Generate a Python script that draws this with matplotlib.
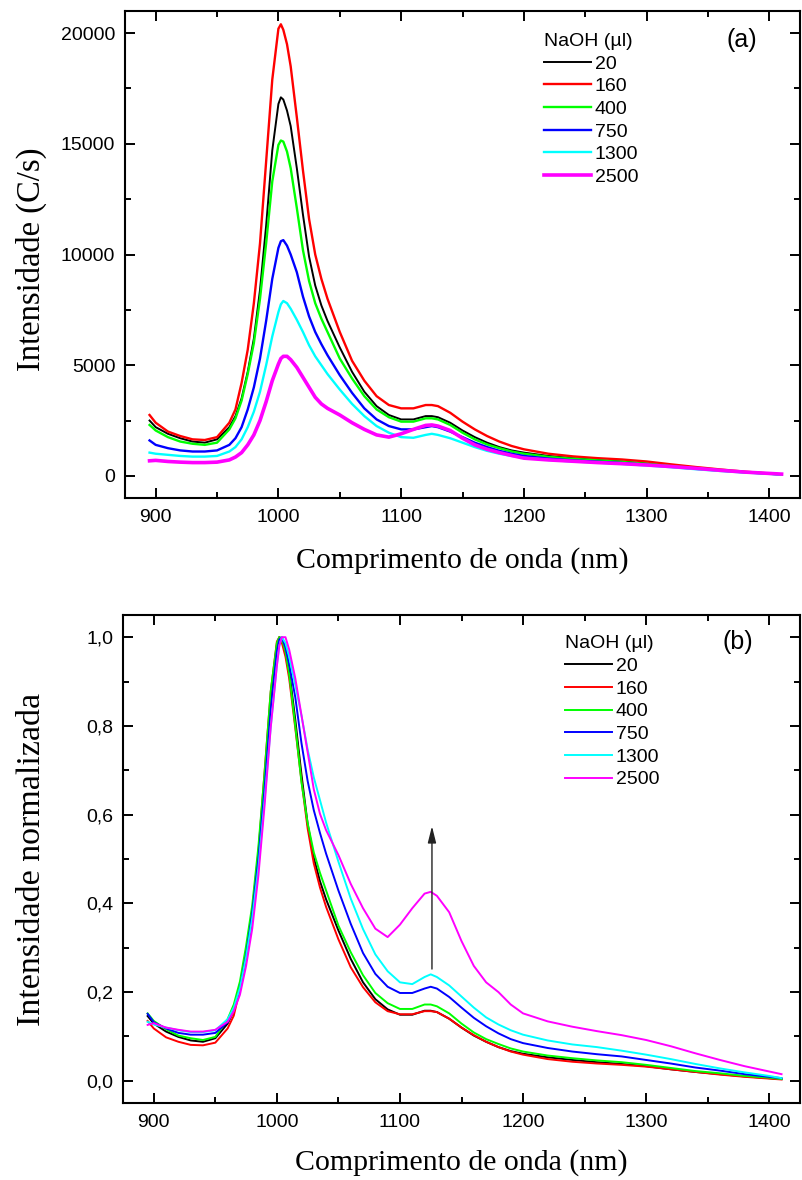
import matplotlib
matplotlib.use("Agg")
import matplotlib.pyplot as plt
from matplotlib.ticker import MultipleLocator, FuncFormatter

# comprimento de onda (nm)
lam = [895, 900, 910, 920, 930, 940, 950, 960, 965, 970,
       975, 980, 985, 990, 995, 1000, 1002, 1004, 1007, 1010,
       1015, 1020, 1025, 1030, 1035, 1040, 1050, 1060, 1070, 1080,
       1090, 1100, 1110, 1120, 1125, 1130, 1140, 1150, 1160, 1170,
       1180, 1190, 1200, 1220, 1240, 1260, 1280, 1300, 1320, 1340,
       1360, 1380, 1400, 1410]

naoh = ["20", "160", "400", "750", "1300", "2500"]
cores = ["#000000", "#ff0000", "#00ff00", "#0000ff", "#00ffff", "#ff00ff"]

# (a) intensidade (C/s)
int_20 = [2500, 2200, 1900, 1700, 1550, 1500, 1650, 2200, 2700, 3500,
          4700, 6200, 8400, 11300, 14700, 16800, 17100, 17000, 16500, 15800,
          13900, 11800, 9900, 8600, 7700, 7000, 5800, 4700, 3800, 3150,
          2750, 2550, 2550, 2700, 2700, 2650, 2400, 2050, 1750, 1500,
          1300, 1150, 1050, 900, 800, 720, 650, 560, 450, 350,
          260, 170, 100, 60]
int_160 = [2750, 2400, 2000, 1800, 1650, 1620, 1750, 2400, 3000, 4200,
           5700, 7800, 10500, 14200, 17900, 20200, 20400, 20150, 19500, 18500,
           16200, 13800, 11600, 10000, 8900, 8000, 6500, 5200, 4300, 3600,
           3200, 3050, 3050, 3200, 3200, 3150, 2850, 2450, 2100, 1800,
           1550, 1350, 1200, 1000, 880, 800, 740, 650, 520, 400,
           290, 190, 110, 70]
int_400 = [2300, 2050, 1750, 1550, 1450, 1400, 1500, 2100, 2600, 3400,
           4600, 6000, 8000, 10500, 13300, 14950, 15150, 15100, 14650, 13900,
           12100, 10200, 8800, 7800, 7100, 6500, 5300, 4400, 3600, 3000,
           2650, 2450, 2450, 2600, 2600, 2550, 2300, 1950, 1650, 1420,
           1250, 1100, 1000, 860, 770, 700, 630, 540, 440, 340,
           250, 170, 100, 60]
int_750 = [1600, 1400, 1250, 1150, 1100, 1100, 1150, 1400, 1700, 2200,
           3000, 4000, 5300, 7000, 8900, 10300, 10600, 10650, 10400, 10000,
           9200, 8100, 7200, 6500, 5950, 5450, 4550, 3750, 3050, 2550,
           2250, 2100, 2100, 2200, 2250, 2200, 2000, 1750, 1500, 1300,
           1130, 1000, 900, 780, 700, 640, 580, 500, 410, 320,
           240, 160, 100, 60]
int_1300 = [1050, 1000, 950, 900, 870, 870, 900, 1100, 1300, 1650,
            2200, 2900, 3800, 5000, 6300, 7400, 7750, 7900, 7800, 7550,
            7050, 6500, 5900, 5400, 5000, 4600, 3900, 3250, 2700, 2250,
            1950, 1750, 1720, 1850, 1900, 1850, 1700, 1500, 1300, 1130,
            1000, 900, 820, 720, 650, 600, 540, 470, 390, 300,
            220, 150, 90, 50]
int_2500 = [680, 700, 650, 620, 600, 600, 620, 720, 850, 1050,
            1400, 1850, 2500, 3350, 4300, 5050, 5300, 5400, 5400, 5250,
            4900, 4450, 4000, 3550, 3250, 3050, 2750, 2400, 2100, 1850,
            1750, 1900, 2100, 2280, 2300, 2250, 2050, 1700, 1400, 1200,
            1050, 920, 800, 720, 660, 600, 550, 490, 420, 340,
            250, 170, 110, 80]

# (b) intensidade normalizada
norm_20 = [0.146, 0.129, 0.111, 0.099, 0.091, 0.088, 0.096, 0.129, 0.158, 0.205,
           0.275, 0.363, 0.491, 0.661, 0.860, 0.982, 1.0, 0.994, 0.965, 0.924,
           0.813, 0.690, 0.579, 0.503, 0.450, 0.409, 0.339, 0.275, 0.222, 0.184,
           0.161, 0.149, 0.149, 0.158, 0.158, 0.155, 0.140, 0.120, 0.102, 0.088,
           0.076, 0.067, 0.061, 0.053, 0.047, 0.042, 0.038, 0.033, 0.026, 0.020,
           0.015, 0.010, 0.006, 0.004]
norm_160 = [0.135, 0.118, 0.098, 0.088, 0.081, 0.080, 0.086, 0.118, 0.147, 0.206,
            0.280, 0.383, 0.516, 0.696, 0.877, 0.990, 1.0, 0.988, 0.956, 0.907,
            0.794, 0.676, 0.569, 0.490, 0.436, 0.392, 0.319, 0.256, 0.211, 0.177,
            0.157, 0.150, 0.150, 0.157, 0.157, 0.155, 0.140, 0.120, 0.103, 0.088,
            0.076, 0.066, 0.059, 0.049, 0.043, 0.039, 0.036, 0.032, 0.026, 0.020,
            0.014, 0.009, 0.005, 0.003]
norm_400 = [0.152, 0.135, 0.116, 0.102, 0.096, 0.092, 0.099, 0.139, 0.172, 0.224,
            0.304, 0.396, 0.528, 0.693, 0.878, 0.987, 1.0, 0.997, 0.967, 0.917,
            0.799, 0.673, 0.581, 0.515, 0.469, 0.429, 0.350, 0.290, 0.238, 0.198,
            0.175, 0.162, 0.162, 0.172, 0.172, 0.168, 0.152, 0.129, 0.109, 0.094,
            0.083, 0.073, 0.066, 0.057, 0.051, 0.046, 0.042, 0.036, 0.029, 0.022,
            0.017, 0.011, 0.007, 0.004]
norm_750 = [0.151, 0.132, 0.118, 0.108, 0.104, 0.104, 0.108, 0.132, 0.160, 0.208,
            0.283, 0.377, 0.500, 0.657, 0.836, 0.967, 0.995, 1.0, 0.977, 0.939,
            0.864, 0.761, 0.676, 0.610, 0.559, 0.512, 0.429, 0.354, 0.288, 0.241,
            0.212, 0.198, 0.198, 0.208, 0.212, 0.208, 0.189, 0.165, 0.142, 0.123,
            0.107, 0.094, 0.085, 0.074, 0.066, 0.060, 0.055, 0.047, 0.039, 0.030,
            0.023, 0.015, 0.009, 0.006]
norm_1300 = [0.133, 0.127, 0.120, 0.114, 0.110, 0.110, 0.114, 0.139, 0.165, 0.209,
             0.278, 0.367, 0.481, 0.633, 0.797, 0.937, 0.981, 1.0, 0.987, 0.956,
             0.892, 0.823, 0.747, 0.684, 0.633, 0.582, 0.494, 0.411, 0.342, 0.285,
             0.247, 0.222, 0.218, 0.234, 0.240, 0.234, 0.215, 0.190, 0.165, 0.143,
             0.127, 0.114, 0.104, 0.091, 0.082, 0.076, 0.068, 0.059, 0.049, 0.038,
             0.028, 0.019, 0.011, 0.006]
norm_2500 = [0.126, 0.130, 0.120, 0.115, 0.111, 0.111, 0.115, 0.133, 0.157, 0.194,
             0.259, 0.343, 0.463, 0.620, 0.796, 0.935, 0.981, 1.0, 1.0, 0.972,
             0.907, 0.824, 0.741, 0.657, 0.602, 0.565, 0.509, 0.444, 0.389, 0.343,
             0.324, 0.352, 0.389, 0.422, 0.426, 0.417, 0.380, 0.315, 0.259, 0.222,
             0.200, 0.172, 0.152, 0.134, 0.122, 0.112, 0.103, 0.092, 0.078, 0.062,
             0.047, 0.033, 0.021, 0.015]

# seta indicando o aumento do pico em ~1125 nm
seta_x = 1126
seta_y0, seta_y1 = 0.252, 0.574

sans = "Liberation Sans"
serif = "Liberation Serif"

fig = plt.figure(figsize=(8.02, 11.8), dpi=100)
ax1 = fig.add_axes([125 / 802, 1 - 498 / 1180, 675 / 802, 487 / 1180])
ax2 = fig.add_axes([123 / 802, 1 - 1103 / 1180, 677 / 802, 488 / 1180])

larg_a = [1.4, 1.7, 1.7, 1.7, 1.7, 2.6]
for serie, cor, rot, lw in zip([int_20, int_160, int_400, int_750, int_1300, int_2500],
                               cores, naoh, larg_a):
    ax1.plot(lam, serie, color=cor, lw=lw, label=rot)

for serie, cor, rot in zip([norm_20, norm_160, norm_400, norm_750, norm_1300, norm_2500],
                           cores, naoh):
    ax2.plot(lam, serie, color=cor, lw=1.4, label=rot)

ax2.annotate("", xy=(seta_x, seta_y1), xytext=(seta_x, seta_y0),
             arrowprops=dict(arrowstyle="-|>,head_length=1.0,head_width=0.25",
                             color="#222222", lw=1.0, shrinkA=0, shrinkB=0))

ax1.set_xlim(875, 1425)
ax1.set_ylim(-1000, 21000)
ax2.set_xlim(875, 1425)
ax2.set_ylim(-0.05, 1.05)

ax1.yaxis.set_major_locator(MultipleLocator(5000))
ax1.yaxis.set_minor_locator(MultipleLocator(2500))
ax2.yaxis.set_major_locator(MultipleLocator(0.2))
ax2.yaxis.set_minor_locator(MultipleLocator(0.1))
ax2.yaxis.set_major_formatter(FuncFormatter(lambda v, p: f"{v:.1f}".replace(".", ",")))

for ax in (ax1, ax2):
    ax.xaxis.set_major_locator(MultipleLocator(100))
    ax.xaxis.set_minor_locator(MultipleLocator(50))
    ax.tick_params(which="both", direction="in", top=True, right=True, width=1.4)
    ax.tick_params(which="major", length=7)
    ax.tick_params(which="minor", length=4)
    ax.tick_params(axis="x", pad=8)
    ax.tick_params(axis="y", pad=7)
    for lab in ax.get_xticklabels() + ax.get_yticklabels():
        lab.set_family(sans)
        lab.set_fontsize(14)
    for sp in ax.spines.values():
        sp.set_linewidth(1.5)
    ax.set_xlabel("Comprimento de onda (nm)", family=serif, fontsize=21.5)

ax1.set_ylabel("Intensidade (C/s)", family=serif, fontsize=23.5)
ax2.set_ylabel("Intensidade normalizada", family=serif, fontsize=24.5)
ax1.xaxis.set_label_coords(0.5, -0.101)
ax2.xaxis.set_label_coords(0.5, -0.095)
ax1.yaxis.set_label_coords(-0.115, 0.49)
ax2.yaxis.set_label_coords(-0.112, 0.5)

leg_kw = dict(frameon=False, loc="upper left", borderpad=0, borderaxespad=0,
              handlelength=2.4, handletextpad=0.2, labelspacing=0.26,
              prop={"family": sans, "size": 14}, alignment="left")
leg1 = ax1.legend(bbox_to_anchor=(0.621, 0.955), **leg_kw)
leg1.set_title("NaOH (µl)", prop={"family": sans, "size": 14})
leg2 = ax2.legend(bbox_to_anchor=(0.653, 0.958), **leg_kw)
leg2.set_title("NaOH (µl)", prop={"family": sans, "size": 14})

ax1.text(0.914, 0.94, "(a)", transform=ax1.transAxes, family=sans, fontsize=18,
         ha="center", va="center")
ax2.text(0.908, 0.945, "(b)", transform=ax2.transAxes, family=sans, fontsize=18,
         ha="center", va="center")

fig.savefig("out.png", dpi=100)
